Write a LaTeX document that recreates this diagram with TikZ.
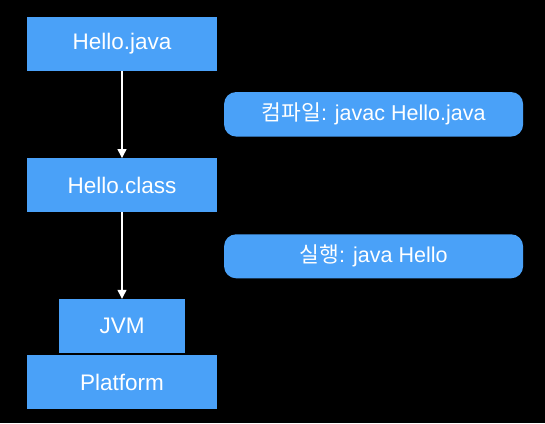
\documentclass[tikz,border=0pt]{standalone}
\usepackage{fontspec}
\setmainfont{Liberation Sans}
\newfontfamily\kr{Noto Sans CJK KR}
\usetikzlibrary{arrows.meta}
\definecolor{boxblue}{HTML}{4AA1F8}
\tikzset{
  box/.style={fill=boxblue, draw=none, inner sep=0pt, text=white, font=\fontsize{22.5}{26}\selectfont},
  tag/.style={fill=boxblue, draw=none, rounded corners=12pt, inner sep=0pt, text=white, font=\fontsize{21.5}{26}\selectfont},
  conn/.style={draw=white, line width=1.3pt, -{Triangle[width=9pt,length=9pt]}}
}
\begin{document}
\begin{tikzpicture}[x=1pt,y=-1pt]
\fill[black] (0,0) rectangle (545,423);
\useasboundingbox (0,0) rectangle (545,423);
\node[box, minimum width=189.5pt, minimum height=54pt] (java) at (122,43.8) {Hello.java};
\node[box, minimum width=189.5pt, minimum height=53.5pt] (class) at (122,185) {Hello.class};
\node[box, minimum width=126pt, minimum height=54pt] (jvm) at (122,326) {JVM};
\node[box, minimum width=189.5pt, minimum height=54pt] (plat) at (122,382.2) {Platform};
\node[tag, minimum width=299pt, minimum height=44.5pt] (compile) at (373.6,114.3) {{\kr 컴파일}: javac Hello.java};
\node[tag, minimum width=299pt, minimum height=44pt] (run) at (373.6,256.3) {{\kr 실행}: java Hello};
\draw[conn] (java.south) -- (class.north);
\draw[conn] (class.south) -- (jvm.north);
\end{tikzpicture}
\end{document}
